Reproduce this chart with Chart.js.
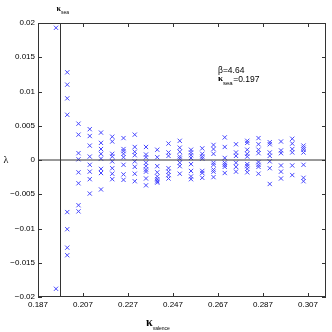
<!DOCTYPE html>
<html>
<head>
<meta charset="utf-8">
<script src="https://cdn.jsdelivr.net/npm/chart.js@4"></script>
<style>
  body { margin: 0; background: #fff; }
  #wrap { width: 332px; height: 332px; }
</style>
</head>
<body>
<div id="wrap"><canvas id="scatterChart" width="332" height="332"></canvas></div>
<script>
// kappa_valence columns (x) and the lambda values measured at each one (y)
var kappaValence = [0.195, 0.200, 0.205, 0.210, 0.215, 0.220, 0.225, 0.230, 0.235, 0.240, 0.245, 0.250,
                    0.255, 0.260, 0.265, 0.270, 0.275, 0.280, 0.285, 0.290, 0.295, 0.300, 0.305];
var lambdaValues = [
    [0.0193, -0.0188],
    [0.0128, 0.0110, 0.0090, 0.0066, -0.0076, -0.0101, -0.0128, -0.0139],
    [0.0053, 0.0037, 0.0010, 0.0001, -0.0018, -0.0034, -0.0066, -0.0075],
    [0.0045, 0.0035, 0.0021, 0.0005, -0.0007, -0.0017, -0.0028, -0.0049],
    [0.0040, 0.0025, 0.0016, 0.0009, 0.0002, -0.0013, -0.0019, -0.0043],
    [0.0034, 0.0027, 0.0009, 0.0005, -0.0002, -0.0012, -0.0020, -0.0028],
    [0.0032, 0.0016, 0.0013, 0.0009, 0.0004, -0.0007, -0.0021, -0.0029],
    [0.0037, 0.0019, 0.0012, 0.0007, -0.0002, -0.0010, -0.0020, -0.0031],
    [0.0019, 0.0008, 0.0004, -0.0004, -0.0009, -0.0014, -0.0017, -0.0027, -0.0037],
    [0.0015, 0.0004, -0.0009, -0.0018, -0.0024, -0.0028, -0.0031, -0.0033],
    [0.0024, 0.0011, 0.0006, -0.0012, -0.0017, -0.0022, -0.0027],
    [0.0028, 0.0018, 0.0012, 0.0005, 0.0002, -0.0004, -0.0009, -0.0020],
    [0.0015, 0.0011, 0.0007, 0.0003, -0.0006, -0.0016, -0.0024, -0.0028],
    [0.0017, 0.0009, 0.0005, 0.0002, -0.0016, -0.0019, -0.0026],
    [0.0022, 0.0016, 0.0009, -0.0004, -0.0007, -0.0014, -0.0017, -0.0025],
    [0.0033, 0.0019, 0.0003, -0.0004, -0.0007, -0.0010, -0.0019],
    [0.0023, 0.0011, 0.0006, -0.0004, -0.0010, -0.0017],
    [0.0028, 0.0025, 0.0015, 0.0009, 0.0005, -0.0006, -0.0009, -0.0013, -0.0018],
    [0.0032, 0.0023, 0.0015, 0.0010, -0.0003, -0.0007, -0.0010, -0.0020],
    [0.0026, 0.0023, 0.0011, 0.0006, -0.0002, -0.0012, -0.0035],
    [0.0027, 0.0014, 0.0010, -0.0008, -0.0017, -0.0027],
    [0.0031, 0.0024, 0.0016, 0.0011, -0.0008, -0.0022],
    [0.0021, 0.0018, 0.0015, 0.0011, -0.0007, -0.0026, -0.0031]
];

var xTicks = [0.187, 0.207, 0.227, 0.247, 0.267, 0.287, 0.307];
var yTicks = [-0.02, -0.015, -0.01, -0.005, 0, 0.005, 0.01, 0.015, 0.02];
var xRange = [0.187, 0.315];
var yRange = [-0.02, 0.02];

var kappaSea = 0.197;
var beta = 4.64;

// flatten columns into scatter points
var points = [];
kappaValence.forEach(function(k, i) {
    lambdaValues[i].forEach(function(l) {
        points.push({ x: k, y: l });
    });
});

var FRAME = '#333';
var FONT = '"Liberation Sans", Arial, sans-serif';

function fmt(v) {
    if (v === 0) return '0';
    var s = String(Math.abs(v));
    return (v < 0 ? '\u2212' : '') + s;
}

// box + inward ticks on every side, like the old matlab figure
var framePlugin = {
    id: 'frame',
    afterDraw: function(chart) {
        var c = chart.ctx, a = chart.chartArea;
        var xs = chart.scales.x, ys = chart.scales.y;
        var len = 4;
        c.save();
        c.strokeStyle = FRAME;
        c.lineWidth = 1;
        c.strokeRect(Math.round(a.left) + 0.5, Math.round(a.top) + 0.5,
                     Math.round(a.right - a.left) - 1, Math.round(a.bottom - a.top) - 1);
        c.beginPath();
        xTicks.forEach(function(v) {
            var px = Math.round(xs.getPixelForValue(v)) + 0.5;
            c.moveTo(px, a.bottom); c.lineTo(px, a.bottom - len);
            c.moveTo(px, a.top); c.lineTo(px, a.top + len);
        });
        yTicks.forEach(function(v) {
            var py = Math.round(ys.getPixelForValue(v)) + 0.5;
            c.moveTo(a.left, py); c.lineTo(a.left + len, py);
            c.moveTo(a.right, py); c.lineTo(a.right - len, py);
        });
        c.stroke();
        c.restore();
    }
};

// kappa with subscript, written piece by piece
function kappaSub(c, x, y, bigSize, subSize, sub, after) {
    c.font = 'bold ' + bigSize + 'px "Liberation Serif", serif';
    c.textBaseline = 'middle';
    c.textAlign = 'left';
    c.fillText('\u03ba', x, y);
    var w = c.measureText('\u03ba').width;
    c.font = subSize + 'px ' + FONT;
    c.fillText(sub, x + w, y + bigSize * 0.5);
    var w2 = c.measureText(sub).width;
    if (after) {
        c.font = '8.5px ' + FONT;
        c.fillText(after, x + w + w2 + 0.5, y + 1);
    }
}

var textPlugin = {
    id: 'texts',
    afterDraw: function(chart) {
        var c = chart.ctx, a = chart.chartArea;
        var xs = chart.scales.x, ys = chart.scales.y;
        c.save();
        c.fillStyle = '#000';

        // label over the kappa_sea line
        kappaSub(c, xs.getPixelForValue(kappaSea) - 4, a.top - 14, 8, 5, 'sea');

        // parameter box text
        var tx = xs.getPixelForValue(0.267), ty = ys.getPixelForValue(0.013);
        c.font = '8.5px ' + FONT;
        c.textBaseline = 'middle';
        c.textAlign = 'left';
        c.fillText('\u03b2=' + beta, tx, ty);
        kappaSub(c, tx, ty + 8, 9, 6, 'sea', '=' + kappaSea);

        // axis titles
        kappaSub(c, (a.left + a.right) / 2 - 36, a.bottom + 26, 12, 5, 'valence');
        c.font = '10px "Liberation Serif", serif';
        c.textAlign = 'center';
        c.fillText('\u03bb', 6, ys.getPixelForValue(0));
        c.restore();
    }
};

var ctx = document.getElementById('scatterChart').getContext('2d');
var myChart = new Chart(ctx, {
    type: 'scatter',
    data: {
        datasets: [{
            label: 'lambda',
            data: points,
            pointStyle: 'crossRot',
            pointRadius: 3,
            borderColor: 'rgb(70, 70, 255)',
            borderWidth: 1,
            order: 2
        }, {
            type: 'line',
            label: 'kappa sea',
            data: [{ x: kappaSea, y: yRange[0] }, { x: kappaSea, y: yRange[1] }],
            borderColor: FRAME,
            borderWidth: 1,
            pointRadius: 0,
            order: 1
        }, {
            type: 'line',
            label: 'zero',
            data: [{ x: xRange[0], y: 0 }, { x: xRange[1], y: 0 }],
            borderColor: FRAME,
            borderWidth: 1,
            pointRadius: 0,
            order: 1
        }]
    },
    options: {
        responsive: false,
        animation: false,
        layout: { padding: { top: 23, right: 6, left: 0, bottom: 0 } },
        plugins: {
            legend: { display: false },
            tooltip: { enabled: false }
        },
        scales: {
            x: {
                type: 'linear',
                min: xRange[0],
                max: xRange[1],
                grid: { display: false, drawTicks: false },
                border: { display: false },
                afterBuildTicks: function(scale) {
                    scale.ticks = xTicks.map(function(v) { return { value: v }; });
                },
                afterFit: function(scale) { scale.height = 35; },
                ticks: {
                    autoSkip: false,
                    maxRotation: 0,
                    padding: 3,
                    color: '#000',
                    font: { family: FONT, size: 8 },
                    callback: function(v) { return fmt(v); }
                }
            },
            y: {
                type: 'linear',
                min: yRange[0],
                max: yRange[1],
                grid: { display: false, drawTicks: false },
                border: { display: false },
                afterBuildTicks: function(scale) {
                    scale.ticks = yTicks.map(function(v) { return { value: v }; });
                },
                afterFit: function(scale) { scale.width = 38; },
                ticks: {
                    autoSkip: false,
                    padding: 3,
                    color: '#000',
                    font: { family: FONT, size: 8 },
                    callback: function(v) { return fmt(v); }
                }
            }
        }
    },
    plugins: [framePlugin, textPlugin]
});
</script>
</body>
</html>
